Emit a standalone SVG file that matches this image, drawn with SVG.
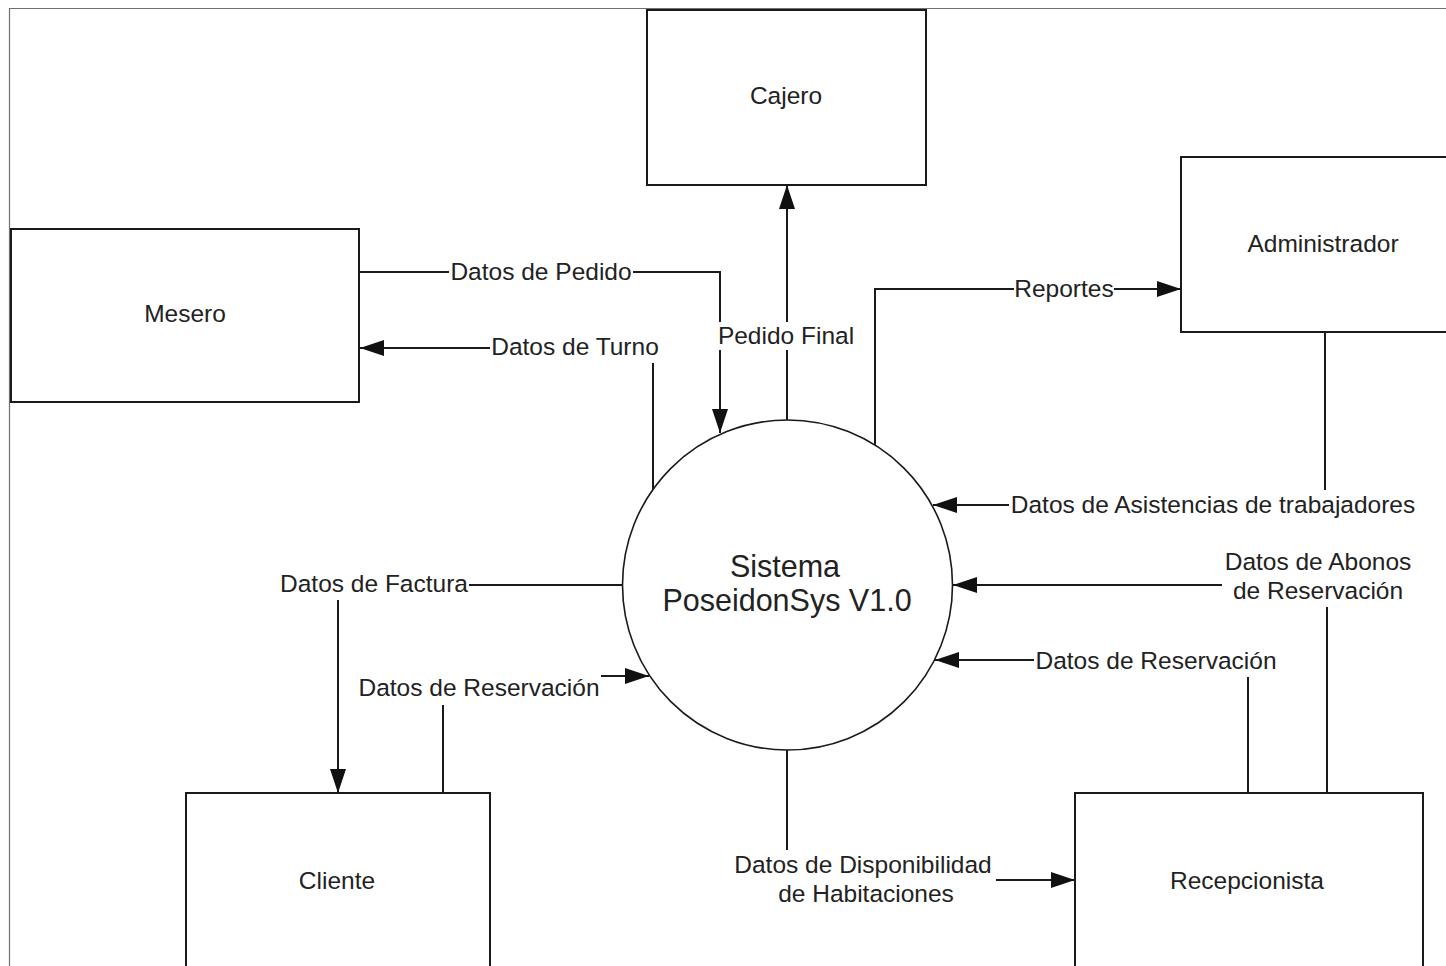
<svg xmlns="http://www.w3.org/2000/svg" width="1446" height="966" viewBox="0 0 1446 966">
  <style>
    .frame { fill: none; stroke: #707070; stroke-width: 1.2; }
    .entity { fill: #ffffff; stroke: #1a1a1a; stroke-width: 2; }
    .process { fill: #ffffff; stroke: #1a1a1a; stroke-width: 1.6; }
    .flow { fill: none; stroke: #1a1a1a; stroke-width: 2; }
    text { font-family: "Liberation Sans", Arial, sans-serif; fill: #222222; }
    .lbl { font-size: 24.5px; text-anchor: middle; }
    .big { font-size: 30.5px; text-anchor: middle; }
  </style>
  <defs>
    <marker id="arrow" markerUnits="userSpaceOnUse" markerWidth="24" markerHeight="16" viewBox="0 0 24 16" refX="24" refY="8" orient="auto">
      <path d="M0,0 L24,8 L0,16 z" fill="#111111"/>
    </marker>
  </defs>

  <rect width="1446" height="966" fill="#ffffff"/>

  <!-- page border -->
  <path class="frame" d="M9.5,966 V8.5 H1446"/>

  <!-- external entities and central process -->
  <g id="cajero">
    <rect class="entity" x="647" y="10" width="279" height="175"/>
    <text class="lbl" x="786" y="104">Cajero</text>
  </g>
  <g id="mesero">
    <rect class="entity" x="11" y="229" width="348" height="173"/>
    <text class="lbl" x="185" y="322">Mesero</text>
  </g>
  <g id="administrador">
    <rect class="entity" x="1181" y="157" width="290" height="175"/>
    <text class="lbl" x="1323" y="252">Administrador</text>
  </g>
  <g id="cliente">
    <rect class="entity" x="186" y="793" width="304" height="200"/>
    <text class="lbl" x="337" y="889">Cliente</text>
  </g>
  <g id="recepcionista">
    <rect class="entity" x="1075" y="793" width="348" height="200"/>
    <text class="lbl" x="1247" y="889">Recepcionista</text>
  </g>
  <g id="sistema">
    <circle class="process" cx="787.5" cy="585" r="165"/>
    <text class="big" x="785" y="577">Sistema</text>
    <text class="big" x="787" y="611">PoseidonSys V1.0</text>
  </g>

  <!-- data flows -->
  <g id="connectors">
    <!-- Mesero -> Sistema -->
    <path class="flow" d="M359,272 H449"/>
    <path class="flow" d="M633,272 H720 V322"/>
    <path class="flow" d="M720,350 V433" marker-end="url(#arrow)"/>
    <text class="lbl" x="541" y="280">Datos de Pedido</text>

    <!-- Sistema -> Mesero -->
    <path class="flow" d="M653,489 V363"/>
    <path class="flow" d="M490,348 H360" marker-end="url(#arrow)"/>
    <text class="lbl" x="575" y="355">Datos de Turno</text>

    <!-- Sistema -> Cajero -->
    <path class="flow" d="M787,420 V350"/>
    <path class="flow" d="M787,322 V185" marker-end="url(#arrow)"/>
    <text class="lbl" x="786" y="344">Pedido Final</text>

    <!-- Sistema -> Administrador -->
    <path class="flow" d="M875,445 V289 H1014"/>
    <path class="flow" d="M1114,289 H1181" marker-end="url(#arrow)"/>
    <text class="lbl" x="1064" y="297">Reportes</text>

    <!-- Administrador -> Sistema -->
    <path class="flow" d="M1325,332 V490"/>
    <path class="flow" d="M1009,505 H933" marker-end="url(#arrow)"/>
    <text class="lbl" x="1213" y="513">Datos de Asistencias de trabajadores</text>

    <!-- Recepcionista -> Sistema (abonos) -->
    <path class="flow" d="M1327,793 V607"/>
    <path class="flow" d="M1222,585 H953" marker-end="url(#arrow)"/>
    <text class="lbl" x="1318" y="570">Datos de Abonos</text>
    <text class="lbl" x="1318" y="599">de Reservación</text>

    <!-- Recepcionista -> Sistema (reservación) -->
    <path class="flow" d="M1248,793 V677"/>
    <path class="flow" d="M1034,660 H935" marker-end="url(#arrow)"/>
    <text class="lbl" x="1156" y="669">Datos de Reservación</text>

    <!-- Sistema -> Recepcionista -->
    <path class="flow" d="M787,750 V850"/>
    <path class="flow" d="M996,880 H1075" marker-end="url(#arrow)"/>
    <text class="lbl" x="863" y="873">Datos de Disponibilidad</text>
    <text class="lbl" x="866" y="902">de Habitaciones</text>

    <!-- Sistema -> Cliente -->
    <path class="flow" d="M622,585 H469"/>
    <path class="flow" d="M338,600 V793" marker-end="url(#arrow)"/>
    <text class="lbl" x="374" y="592">Datos de Factura</text>

    <!-- Cliente -> Sistema -->
    <path class="flow" d="M443,793 V705"/>
    <path class="flow" d="M601,676 H649" marker-end="url(#arrow)"/>
    <text class="lbl" x="479" y="696">Datos de Reservación</text>
  </g>
</svg>
